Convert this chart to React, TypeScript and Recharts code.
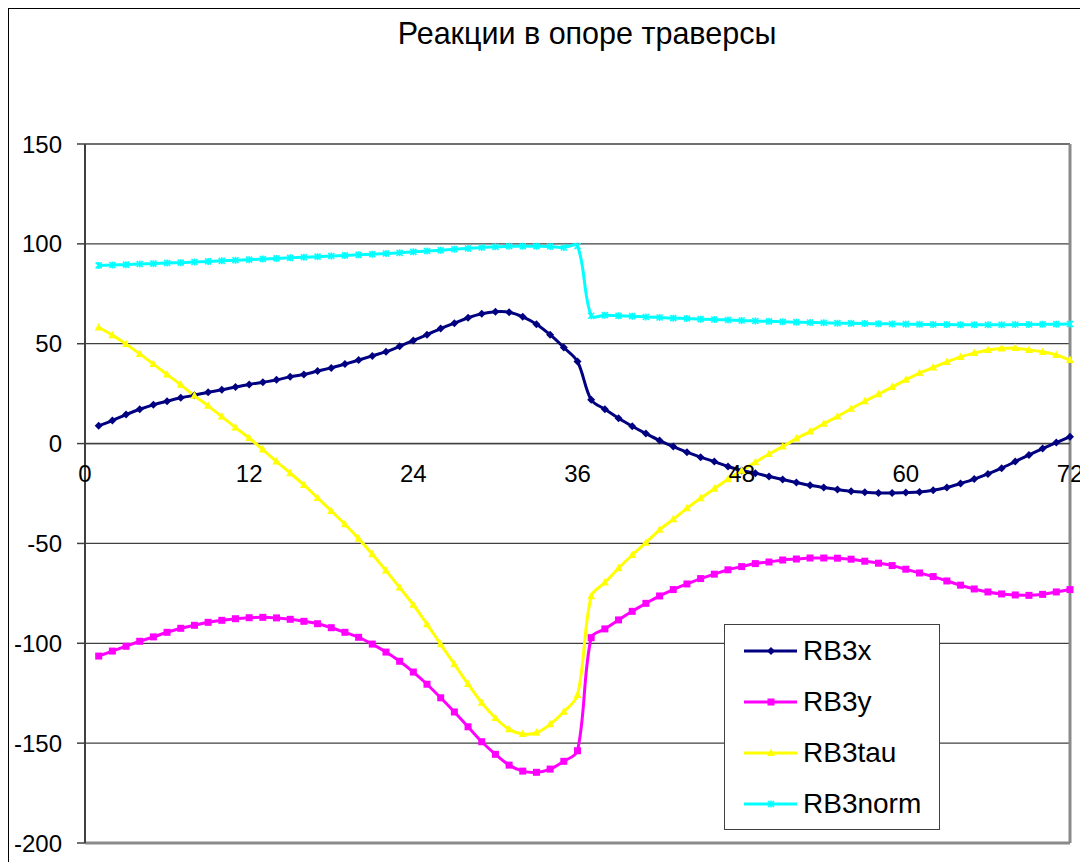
import React from "react";
import {
  LineChart,
  Line,
  XAxis,
  YAxis,
  CartesianGrid,
  ReferenceLine,
  ReferenceDot,
  Legend,
} from "recharts";

const FONT = "Arial, 'Liberation Sans', sans-serif";

const steps = [
  1, 2, 3, 4, 5, 6, 7, 8, 9, 10, 11, 12, 13, 14, 15, 16, 17, 18, 19, 20, 21, 22, 23, 24,
  25, 26, 27, 28, 29, 30, 31, 32, 33, 34, 35, 36, 37, 38, 39, 40, 41, 42, 43, 44, 45, 46, 47, 48,
  49, 50, 51, 52, 53, 54, 55, 56, 57, 58, 59, 60, 61, 62, 63, 64, 65, 66, 67, 68, 69, 70, 71, 72,
];

const rb3x = [
  8.9, 11.5, 14.5, 17.2, 19.4, 21.2, 22.9, 24.2, 25.7, 26.9, 28.3, 29.6,
  30.7, 31.9, 33.4, 34.6, 36.3, 37.9, 39.8, 41.8, 43.9, 46.0, 48.7, 51.6,
  54.5, 57.6, 60.3, 63.0, 65.0, 66.0, 65.8, 63.5, 59.8, 54.5, 48.1, 41.1,
  21.9, 17.2, 12.7, 8.7, 5.0, 1.5, -1.5, -4.3, -6.8, -9.0, -11.5, -13.5,
  -14.8, -16.5, -18.0, -19.5, -20.9, -22.0, -23.0, -23.9, -24.4, -24.7, -24.7, -24.5,
  -24.2, -23.4, -22.0, -20.0, -17.8, -15.2, -12.3, -9.0, -5.7, -2.5, 0.5, 3.4,
];

const rb3y = [
  -106.4, -103.9, -101.5, -99.0, -96.8, -94.5, -92.5, -91.0, -89.5, -88.5, -87.7, -87.2,
  -87.0, -87.3, -88.0, -89.0, -90.2, -92.2, -94.5, -97.0, -100.4, -104.4, -109.0, -114.4,
  -120.5, -127.3, -134.4, -141.8, -149.3, -155.6, -161.0, -164.0, -164.6, -163.0, -159.1, -153.8,
  -97.2, -92.8, -88.3, -84.0, -80.0, -76.3, -73.1, -70.3, -67.6, -65.4, -63.2, -61.6,
  -60.1, -59.3, -58.3, -57.8, -57.3, -57.3, -57.4, -57.9, -58.9, -59.9, -61.1, -62.9,
  -64.8, -66.6, -68.8, -70.9, -72.8, -74.3, -75.3, -75.8, -76.0, -75.5, -74.3, -73.1,
];

const rb3tau = [
  58.1, 54.3, 49.8, 44.9, 39.8, 34.6, 29.4, 23.9, 18.9, 13.5, 8.0, 2.8,
  -3.0, -9.0, -14.8, -20.7, -27.2, -33.7, -40.4, -47.6, -55.4, -63.6, -72.1, -80.7,
  -90.5, -100.5, -110.5, -120.4, -129.8, -137.4, -143.1, -145.4, -144.8, -140.6, -134.3, -125.9,
  -76.5, -69.6, -62.4, -55.8, -49.6, -43.2, -37.9, -32.4, -27.4, -22.6, -17.9, -13.6,
  -9.3, -5.2, -1.5, 2.5, 6.0, 9.9, 13.5, 17.4, 21.2, 24.7, 28.3, 31.9,
  35.3, 38.1, 40.9, 43.4, 45.3, 46.9, 47.6, 47.8, 46.9, 45.9, 44.4, 41.8,
];

const rb3norm = [
  89.2, 89.4, 89.6, 89.9, 90.1, 90.4, 90.6, 90.9, 91.2, 91.5, 91.8, 92.1,
  92.4, 92.7, 93.0, 93.3, 93.6, 93.9, 94.2, 94.5, 94.8, 95.2, 95.5, 96.0,
  96.4, 96.8, 97.3, 97.7, 98.2, 98.5, 98.8, 98.8, 98.8, 98.7, 98.2, 98.9,
  64.0, 64.3, 64.0, 63.8, 63.4, 63.1, 62.8, 62.6, 62.3, 62.1, 61.9, 61.6,
  61.4, 61.2, 61.0, 60.8, 60.6, 60.5, 60.3, 60.2, 60.1, 60.0, 59.9, 59.8,
  59.7, 59.6, 59.6, 59.5, 59.5, 59.5, 59.5, 59.6, 59.6, 59.7, 59.8, 59.9,
];

const xTicks = [0, 12, 24, 36, 48, 60, 72];
const yTicks = [-200, -150, -100, -50, 0, 50, 100, 150];

const series = [
  { key: "rb3x", name: "RB3x", color: "#000080", marker: "diamond" },
  { key: "rb3y", name: "RB3y", color: "#FF00FF", marker: "square" },
  { key: "rb3tau", name: "RB3tau", color: "#FFFF00", marker: "triangle" },
  { key: "rb3norm", name: "RB3norm", color: "#00FFFF", marker: "star" },
];

const data = steps.map((t, i) => ({
  t,
  rb3x: rb3x[i],
  rb3y: rb3y[i],
  rb3tau: rb3tau[i],
  rb3norm: rb3norm[i],
}));

// smoothed line through every point; bezier handles are scaled by the
// neighbouring segment lengths so a short segment next to a long jump
// does not overshoot much
const smooth = (context: any) => {
  let pts: number[][] = [];
  const dist = (a: number[], b: number[]) => Math.hypot(b[0] - a[0], b[1] - a[1]);
  return {
    areaStart() {},
    areaEnd() {},
    lineStart() {
      pts = [];
    },
    point(x: number, y: number) {
      pts.push([+x, +y]);
    },
    lineEnd() {
      if (!pts.length) return;
      context.moveTo(pts[0][0], pts[0][1]);
      for (let i = 0; i < pts.length - 1; i++) {
        const p0 = pts[Math.max(0, i - 1)];
        const p1 = pts[i];
        const p2 = pts[i + 1];
        const p3 = pts[Math.min(pts.length - 1, i + 2)];
        const d01 = dist(p0, p1);
        const d12 = dist(p1, p2);
        const d23 = dist(p2, p3);
        const k1 = d01 + d12 > 0 ? d12 / (d01 + d12) / 3 : 0;
        const k2 = d12 + d23 > 0 ? d12 / (d12 + d23) / 3 : 0;
        context.bezierCurveTo(
          p1[0] + (p2[0] - p0[0]) * k1,
          p1[1] + (p2[1] - p0[1]) * k1,
          p2[0] - (p3[0] - p1[0]) * k2,
          p2[1] - (p3[1] - p1[1]) * k2,
          p2[0],
          p2[1]
        );
      }
    },
  };
};

const Marker = ({ kind, cx, cy, color }: any) => {
  if (cx == null || cy == null) return null;
  switch (kind) {
    case "diamond":
      return (
        <polygon
          points={`${cx},${cy - 4} ${cx + 4},${cy} ${cx},${cy + 4} ${cx - 4},${cy}`}
          fill={color}
        />
      );
    case "square":
      return <rect x={cx - 3.5} y={cy - 3.5} width={7} height={7} fill={color} />;
    case "triangle":
      return (
        <polygon
          points={`${cx},${cy - 4.5} ${cx + 4},${cy + 3} ${cx - 4},${cy + 3}`}
          fill={color}
        />
      );
    default:
      return (
        <path
          d={`M${cx - 3},${cy - 3}L${cx + 3},${cy + 3}M${cx - 3},${cy + 3}L${cx + 3},${cy - 3}M${cx},${cy - 3.5}L${cx},${cy + 3.5}`}
          stroke={color}
          strokeWidth={1.6}
          fill="none"
        />
      );
  }
};

const renderLegend = () => (
  <div
    style={{
      boxSizing: "border-box",
      width: 216,
      height: 206,
      border: "1px solid #404040",
      background: "#fff",
      fontFamily: FONT,
      fontSize: 28,
      color: "#000",
    }}
  >
    {series.map((s) => (
      <div key={s.key} style={{ height: 51, display: "flex", alignItems: "center" }}>
        <svg width={78} height={20} style={{ flex: "none" }}>
          <line x1={19} x2={72} y1={10} y2={10} stroke={s.color} strokeWidth={3} />
          <Marker kind={s.marker} cx={46} cy={10} color={s.color} />
        </svg>
        <span>{s.name}</span>
      </div>
    ))}
  </div>
);

export default function App() {
  return (
    <div
      style={{
        position: "relative",
        width: 1079,
        height: 853,
        borderTop: "1px solid #000",
        borderLeft: "1px solid #000",
        background: "#fff",
      }}
    >
      <div
        style={{
          position: "absolute",
          left: 578,
          top: 9.5,
          transform: "translateX(-50%)",
          whiteSpace: "nowrap",
          fontFamily: FONT,
          fontSize: 30.5,
          lineHeight: "28px",
          color: "#000",
          zIndex: 2,
        }}
      >
        Реакции в опоре траверсы
      </div>
      <LineChart
        width={1079}
        height={853}
        data={data}
        margin={{ top: 135, right: 18, bottom: 19, left: 0 }}
      >
        <CartesianGrid stroke="#404040" strokeWidth={1.3} />
        <XAxis
          dataKey="t"
          type="number"
          domain={[0, 72]}
          ticks={xTicks}
          height={0}
          tick={false}
          axisLine={false}
          tickLine={false}
        />
        <YAxis
          type="number"
          domain={[-200, 150]}
          ticks={yTicks}
          width={76}
          tickSize={8}
          tickMargin={15}
          stroke="#404040"
          axisLine={{ stroke: "#404040", strokeWidth: 2 }}
          tickLine={{ stroke: "#404040", strokeWidth: 1.5 }}
          tick={{ fill: "#000", fontSize: 24, fontFamily: FONT }}
        />
        <ReferenceLine x={72} stroke="#8a8a8a" strokeWidth={3} />
        <ReferenceLine y={-200} stroke="#8a8a8a" strokeWidth={3} />
        <ReferenceLine y={0} stroke="#404040" strokeWidth={1.5} />
        {xTicks.map((t) => (
          <ReferenceDot
            key={`xl-${t}`}
            x={t}
            y={0}
            r={1}
            shape={(p: any) => (
              <text
                x={p.cx}
                y={p.cy + 38}
                textAnchor="middle"
                fontSize={24}
                fontFamily={FONT}
                fill="#000"
              >
                {t}
              </text>
            )}
          />
        ))}
        {series.map((s) => (
          <Line
            key={s.key}
            dataKey={s.key}
            name={s.name}
            type={smooth as any}
            stroke={s.color}
            strokeWidth={3}
            isAnimationActive={false}
            activeDot={false}
            dot={(p: any) => (
              <Marker
                key={`${s.key}-${p.index}`}
                kind={s.marker}
                cx={p.cx}
                cy={p.cy}
                color={s.color}
              />
            )}
          />
        ))}
        <Legend
          layout="vertical"
          align="center"
          verticalAlign="middle"
          content={renderLegend}
          wrapperStyle={{ left: 715, top: 615, width: 216, height: 206 }}
        />
      </LineChart>
    </div>
  );
}
